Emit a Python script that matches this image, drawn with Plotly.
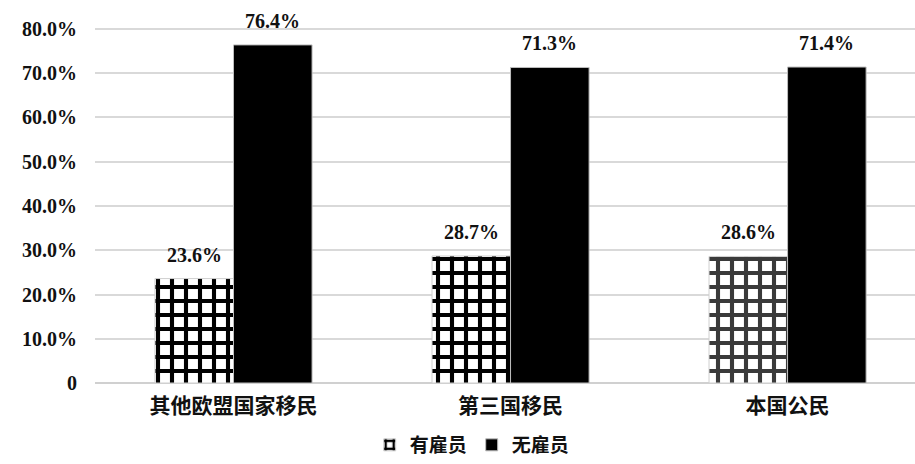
import plotly.graph_objects as go

categories = ["其他欧盟国家移民", "第三国移民", "本国公民"]
with_employees = [23.6, 28.7, 28.6]
without_employees = [76.4, 71.3, 71.4]
series_names = ["有雇员", "无雇员"]
ytick_vals = [0, 10, 20, 30, 40, 50, 60, 70, 80]
ytick_text = ["0", "10.0%", "20.0%", "30.0%", "40.0%", "50.0%", "60.0%", "70.0%", "80.0%"]
pattern_colors = ["#000000", "#000000", "#3a3a3a"]

W, H = 915, 464
ML, MR, MT, MB = 95, 0, 0, 81
XRANGE = [-0.5, 2.46]
YRANGE = [0, 86.55]
BARGAP = 0.433
SERIF = "Liberation Serif"
CJK = "Noto Sans CJK SC"

fig = go.Figure()
fig.add_trace(go.Bar(
    x=categories, y=with_employees, name=series_names[0],
    marker=dict(
        color="white",
        line=dict(color="#cfcfcf", width=1),
        pattern=dict(shape="+", fgcolor=pattern_colors, bgcolor="white",
                     size=14, solidity=0.5, fillmode="replace"),
    ),
))
fig.add_trace(go.Bar(
    x=categories, y=without_employees, name=series_names[1],
    marker=dict(color="black", line=dict(color="#bdbdbd", width=1)),
))

px_per_unit = (W - ML - MR) / (XRANGE[1] - XRANGE[0])
bar_px = (1 - BARGAP) / 2 * px_per_unit
for i, vals in enumerate([with_employees, without_employees]):
    for cat, v in zip(categories, vals):
        fig.add_annotation(
            x=cat, y=v, text=f"{v:.1f}%", showarrow=False,
            xref="x", yref="y", yanchor="bottom",
            xshift=(i - 0.5) * bar_px, yshift=11,
            font=dict(family=SERIF, size=20, color="#111111", weight="bold"),
        )

fig.update_layout(
    width=W, height=H,
    margin=dict(l=ML, r=MR, t=MT, b=MB),
    paper_bgcolor="white", plot_bgcolor="white",
    barmode="group", bargap=BARGAP, bargroupgap=0,
    showlegend=True,
    legend=dict(orientation="h", xref="paper", x=0.46, xanchor="center",
                yref="container", y=0.0, yanchor="bottom",
                font=dict(family=CJK, size=19, color="#111111", weight="bold"),
                itemwidth=30, tracegroupgap=0),
    xaxis=dict(range=XRANGE, showgrid=False, zeroline=False, showline=False,
               ticks="", ticklabelstandoff=8,
               tickfont=dict(family=CJK, size=21, color="#111111", weight="bold")),
    yaxis=dict(range=YRANGE, tickvals=ytick_vals, ticktext=ytick_text,
               showgrid=True, gridcolor="#d9d9d9", gridwidth=1.5,
               zeroline=True, zerolinecolor="#d0d0d0", zerolinewidth=2,
               showline=False, ticks="", ticklabelstandoff=17,
               tickfont=dict(family=SERIF, size=20, color="#111111", weight="bold")),
)

fig.write_html("out.html")
